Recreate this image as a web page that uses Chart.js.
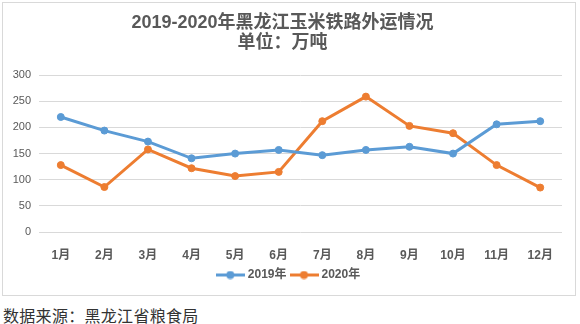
<!DOCTYPE html>
<html>
<head>
<meta charset="utf-8">
<script src="https://cdn.jsdelivr.net/npm/chart.js@4"></script>
<style>
  html, body { margin: 0; padding: 0; background: #ffffff; width: 580px; height: 324px; overflow: hidden; }
  #box { position: absolute; left: 2px; top: 2px; width: 572px; height: 292px; border: 1px solid #d9d9d9; }
  #c { display: block; }
  #src { position: absolute; left: 3px; top: 306px; font-family: "Noto Sans CJK SC", sans-serif; font-size: 16px; line-height: 18px; color: #333333; white-space: nowrap; letter-spacing: 0.3px; }
</style>
</head>
<body>
<div id="box"><canvas id="c" width="572" height="292"></canvas></div>
<div id="src">数据来源：黑龙江省粮食局</div>
<script>
const titleLines = ['2019-2020年黑龙江玉米铁路外运情况', '单位：万吨'];
const categories = ['1月','2月','3月','4月','5月','6月','7月','8月','9月','10月','11月','12月'];
const seriesNames = ['2019年', '2020年'];
const values2019 = [220, 194, 173, 141, 150, 157, 147, 157, 163, 150, 206, 212];
const values2020 = [128, 86, 158, 122, 107, 115, 212, 259, 203, 189, 128, 85];
const yTicks = [0, 50, 100, 150, 200, 250, 300];

const colors = ['#5B9BD5', '#ED7D31'];
const latin = '"Liberation Sans", "Noto Sans CJK SC", sans-serif';

function legendIcon(color) {
  const cv = document.createElement('canvas');
  cv.width = 29; cv.height = 9;
  const g = cv.getContext('2d');
  g.strokeStyle = color; g.lineWidth = 3;
  g.beginPath(); g.moveTo(0, 4.5); g.lineTo(29, 4.5); g.stroke();
  g.fillStyle = color;
  g.beginPath(); g.arc(14.5, 4.5, 4, 0, Math.PI * 2); g.fill();
  return cv;
}
const icons = colors.map(legendIcon);

const placePlugin = {
  id: 'place',
  afterLayout(chart) {
    const lg = chart.legend;
    if (lg) {
      const h = lg.height;
      lg.top = 272 - 6 - 6; lg.bottom = lg.top + h;
      lg.left += 7; lg.right += 7;
    }
  }
};

new Chart(document.getElementById('c'), {
  type: 'line',
  data: {
    labels: categories,
    datasets: [values2019, values2020].map((v, i) => ({
      label: seriesNames[i],
      data: v,
      borderColor: colors[i],
      backgroundColor: colors[i],
      pointBackgroundColor: colors[i],
      pointBorderColor: colors[i],
      borderWidth: 3,
      pointRadius: 3.5,
      pointBorderWidth: 1,
      tension: 0,
      fill: false
    }))
  },
  options: {
    responsive: false,
    animation: false,
    layout: { padding: { left: 0, right: 13, top: 0, bottom: 0 } },
    plugins: {
      title: {
        display: true,
        text: titleLines,
        color: '#595959',
        font: { family: latin, size: 18, weight: 'bold', lineHeight: 1.13 },
        padding: { top: 9.5, bottom: 22 }
      },
      legend: {
        position: 'bottom',
        labels: {
          usePointStyle: true,
          pointStyleWidth: 23,
          padding: 6,
          color: '#595959',
          font: { family: latin, size: 12, weight: 'bold' },
          generateLabels(chart) {
            return chart.data.datasets.map((d, i) => ({
              text: d.label,
              pointStyle: icons[i],
              fillStyle: colors[i],
              strokeStyle: colors[i],
              lineWidth: 0,
              fontColor: '#595959',
              hidden: false,
              datasetIndex: i
            }));
          }
        }
      },
      tooltip: { enabled: false }
    },
    scales: {
      x: {
        offset: true,
        grid: { display: false, offset: true },
        border: { display: false },
        ticks: { color: '#595959', font: { family: latin, size: 12, weight: 'bold' }, padding: 8, maxRotation: 0, autoSkip: false },
        afterFit(s) { const lg = s.chart.legend; s.height = 63 - (lg && lg.height ? lg.height : 0); }
      },
      y: {
        min: 0, max: 300,
        afterBuildTicks(s) { s.ticks = yTicks.map(v => ({ value: v })); },
        grid: { color: '#d9d9d9', lineWidth: 1, drawTicks: false },
        border: { display: false },
        ticks: { color: '#595959', font: { family: latin, size: 11 }, padding: 8 },
        afterFit(s) { s.width = 36; }
      }
    }
  },
  plugins: [placePlugin]
});
</script>
</body>
</html>
